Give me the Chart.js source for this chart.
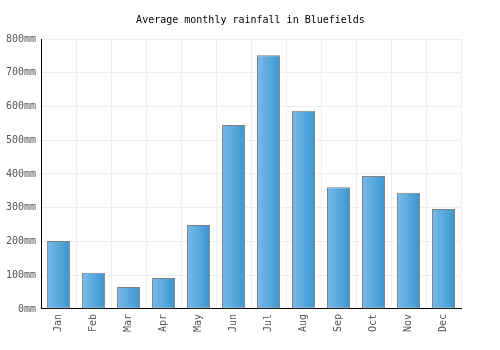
<!DOCTYPE html>
<html>
<head>
<meta charset="utf-8">
<script src="https://cdn.jsdelivr.net/npm/chart.js@4"></script>
<style>
  html, body { margin: 0; padding: 0; background: #fff; }
  #wrap { width: 500px; height: 350px; }
</style>
</head>
<body>
<div id="wrap"><canvas id="rainChart"></canvas></div>
<script>
const months = ['Jan', 'Feb', 'Mar', 'Apr', 'May', 'Jun', 'Jul', 'Aug', 'Sep', 'Oct', 'Nov', 'Dec'];
const rainfall = [201, 107, 65, 92, 249, 545, 752, 587, 361, 394, 344, 296]; // mm
const yMax = 800;
const yStep = 100;

const font = { family: '"DejaVu Sans Mono", monospace', size: 10 };
const barPct = 0.66;

// horizontal light-to-dark blue gradient per bar
function barGradient(context) {
    const chart = context.chart;
    const xScale = chart.scales.x;
    if (!chart.chartArea || !xScale) return '#5aa8e0';
    const cx = xScale.getPixelForValue(context.dataIndex);
    const half = (chart.chartArea.width / months.length) * barPct / 2;
    const g = chart.ctx.createLinearGradient(cx - half, 0, cx + half, 0);
    g.addColorStop(0, '#7cbaea');
    g.addColorStop(1, '#3896cf');
    return g;
}

const ctx = document.getElementById('rainChart').getContext('2d');
new Chart(ctx, {
    type: 'bar',
    data: {
        labels: months,
        datasets: [{
            label: 'Rainfall',
            data: rainfall,
            backgroundColor: barGradient,
            borderColor: '#808080',
            borderWidth: 1,
            borderSkipped: false,
            barPercentage: barPct,
            categoryPercentage: 1
        }]
    },
    options: {
        responsive: true,
        maintainAspectRatio: false,
        animation: false,
        layout: { padding: { left: 1, right: 0, top: 0, bottom: 13 } },
        scales: {
            x: {
                grid: { color: '#eeeeee', offset: true, drawTicks: false },
                border: { color: '#000000', width: 1 },
                ticks: { font: font, color: '#555555', maxRotation: 90, minRotation: 90, padding: 5 }
            },
            y: {
                min: 0,
                max: yMax,
                grid: { color: '#eeeeee', drawTicks: false },
                border: { color: '#000000', width: 1 },
                ticks: {
                    font: font,
                    color: '#555555',
                    stepSize: yStep,
                    padding: 5,
                    callback: v => v + 'mm'
                }
            },
            // empty right-hand axis, only reserves space right of the plot
            yRight: {
                position: 'right',
                grid: { display: false },
                border: { display: false },
                ticks: { display: false },
                afterFit: s => { s.width = 39; }
            }
        },
        plugins: {
            legend: { display: false },
            tooltip: { enabled: false },
            title: {
                display: true,
                text: 'Average monthly rainfall in Bluefields',
                color: '#000000',
                font: { family: font.family, size: 10, weight: 'normal' },
                padding: { top: 14, bottom: 13 }
            }
        }
    }
});
</script>
</body>
</html>
